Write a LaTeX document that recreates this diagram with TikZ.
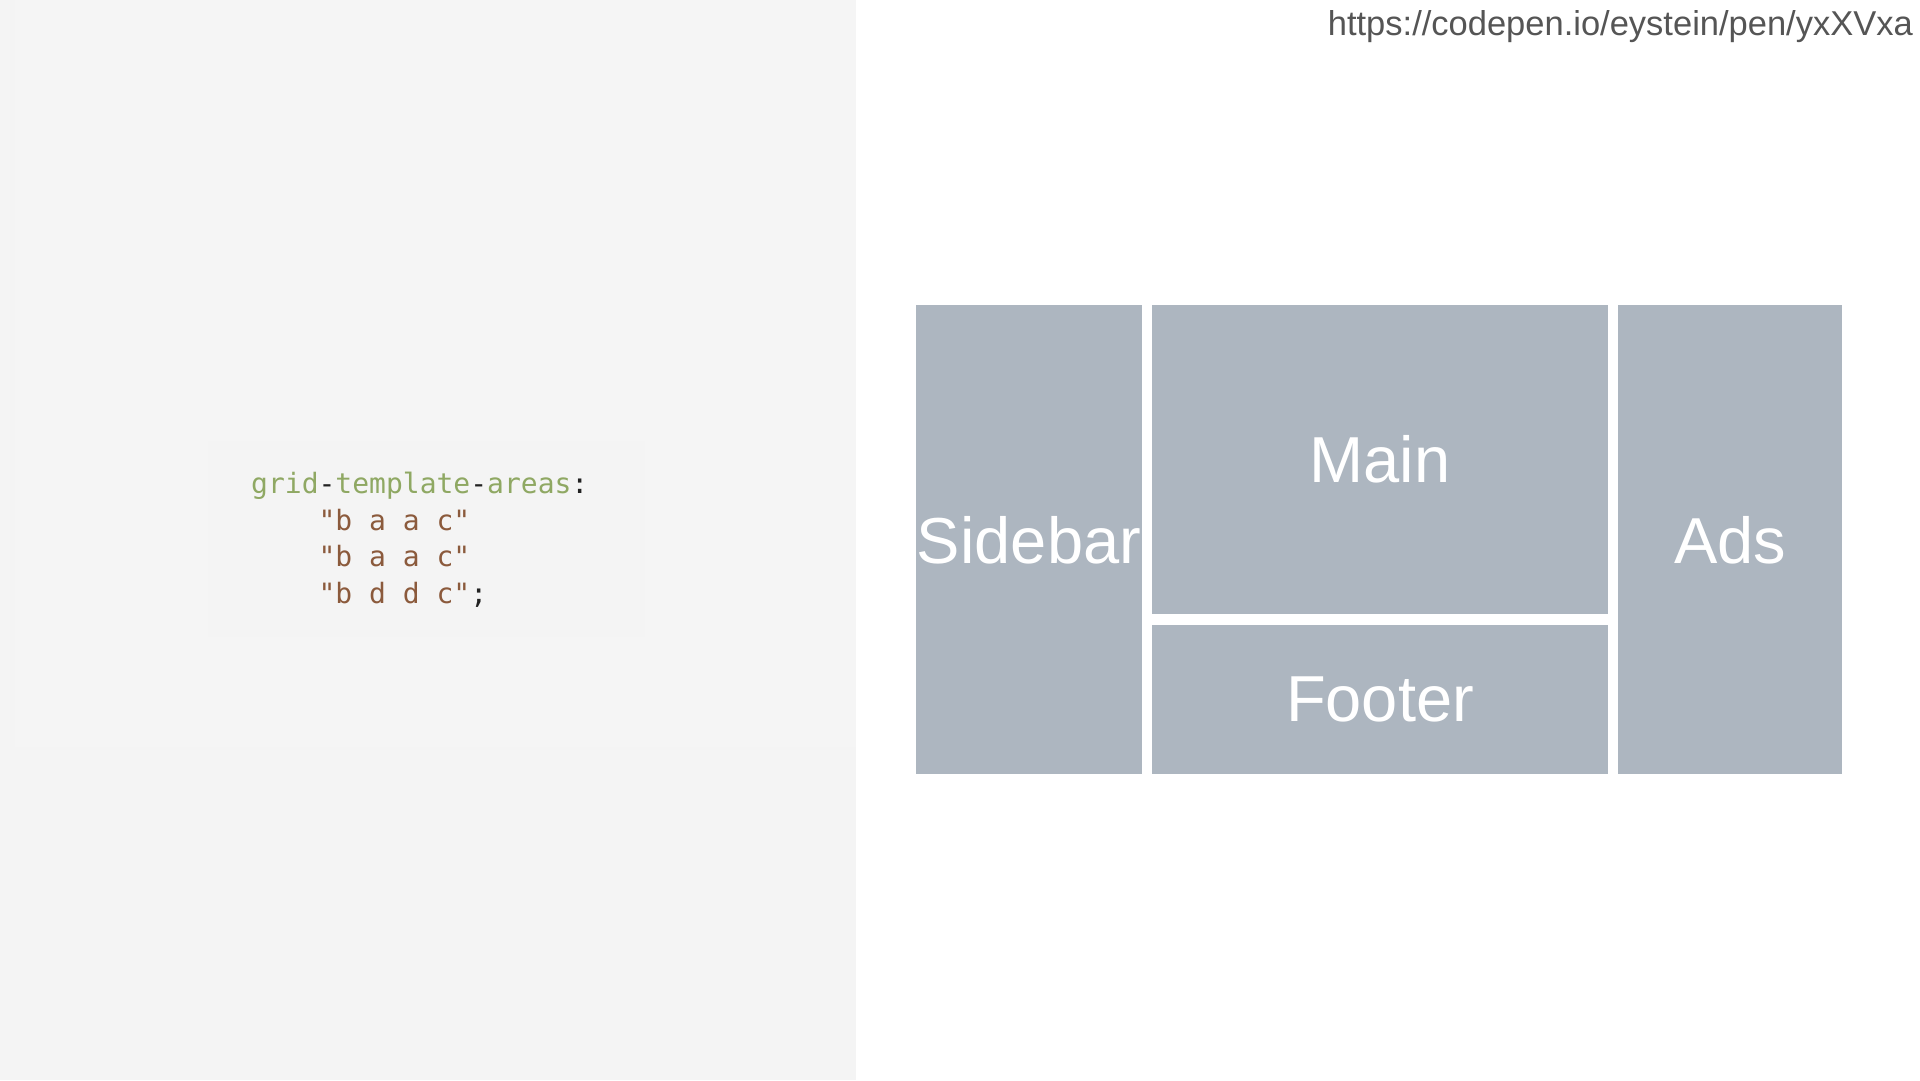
\documentclass[tikz,border=0pt]{standalone}
\usepackage{fontspec}
\setmainfont{Liberation Sans}
\newfontfamily\codefont{DejaVu Sans Mono}
\definecolor{panelbg}{HTML}{F4F4F4}
\definecolor{panelinner}{HTML}{F5F5F5}
\definecolor{areafill}{HTML}{ADB6C0}
\definecolor{codegreen}{HTML}{8FA863}
\definecolor{codebrown}{HTML}{8B5A3C}
\definecolor{codeblack}{HTML}{222222}
\definecolor{urlgrey}{HTML}{555555}
\begin{document}
\begin{tikzpicture}[x=1pt,y=-1pt,
  area/.style={fill=areafill,draw=none},
  arealabel/.style={text=white,font=\fontsize{65}{78}\selectfont,inner sep=0pt},
  codeline/.style={anchor=base west,inner sep=0pt,font=\codefont\fontsize{28}{33}\selectfont}]
\useasboundingbox (0,0) rectangle (1920,1080);
\fill[white] (0,0) rectangle (1920,1080);
% left panel
\fill[panelbg] (0,0) rectangle (856,1080);
\fill[panelinner] (15,0) rectangle (856,747);
\fill[panelbg] (208,441) rectangle (645,637);
% code
\node[codeline] (l1) at (251,493) {\textcolor{codegreen}{grid}\textcolor{codeblack}{-}\textcolor{codegreen}{template}\textcolor{codeblack}{-}\textcolor{codegreen}{areas}\textcolor{codeblack}{:}};
\node[codeline] (l2) at (318.4,530) {\textcolor{codebrown}{"b a a c"}};
\node[codeline] (l3) at (318.4,566.5) {\textcolor{codebrown}{"b a a c"}};
\node[codeline] (l4) at (318.4,603) {\textcolor{codebrown}{"b d d c"}\textcolor{codeblack}{;}};
% URL
\node[anchor=base east,inner sep=0pt,text=urlgrey,font=\fontsize{34.5}{40}\selectfont] (url) at (1913,35) {https://codepen.io/eystein/pen/yxXVxa};
% grid areas
\fill[area] (916,305) rectangle (1142,774);
\fill[area] (1152,305) rectangle (1608,614);
\fill[area] (1152,625) rectangle (1608,774);
\fill[area] (1618,305) rectangle (1842,774);
\node[arealabel] (sidebar) at (1029,540) {Sidebar};
\node[arealabel] (main) at (1380,459.5) {Main};
\node[arealabel] (footer) at (1380,699.5) {Footer};
\node[arealabel] (ads) at (1730,540) {Ads};
\end{tikzpicture}
\end{document}
